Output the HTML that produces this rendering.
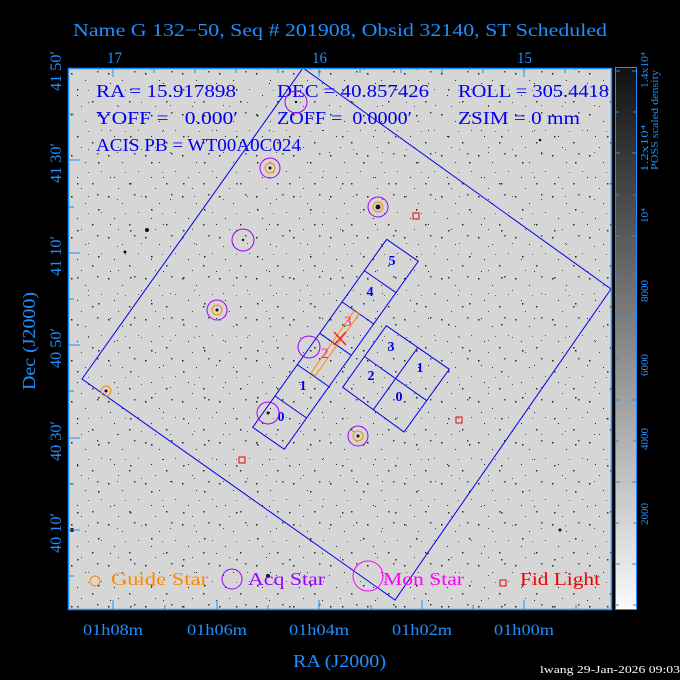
<!DOCTYPE html>
<html><head><meta charset="utf-8"><style>
html,body{margin:0;padding:0;background:#000;}
svg{display:block}
text{font-family:"Liberation Serif",serif;}
</style></head><body>
<svg width="680" height="680" viewBox="0 0 680 680" xmlns="http://www.w3.org/2000/svg">
<defs>
<pattern id="p1" x="68" y="68" width="37" height="41" patternUnits="userSpaceOnUse">
<rect x="3" y="5" width="1.5" height="1.5" fill="#222"/><rect x="17" y="12" width="1" height="1" fill="#333"/>
<rect x="29" y="3" width="1.5" height="1.5" fill="#444"/><rect x="9" y="27" width="1" height="1" fill="#222"/>
<rect x="24" y="33" width="1.5" height="1.5" fill="#333"/><rect x="33" y="21" width="1" height="1" fill="#555"/>
<rect x="13" y="38" width="1" height="1" fill="#444"/><rect x="20" y="22" width="1" height="1" fill="#666"/>
</pattern>
<pattern id="p2" x="70" y="75" width="53" height="47" patternUnits="userSpaceOnUse">
<rect x="7" y="14" width="1.5" height="1.5" fill="#333"/><rect x="40" y="8" width="1" height="1" fill="#222"/>
<rect x="28" y="40" width="1.5" height="1.5" fill="#222"/><rect x="47" y="30" width="1" height="1" fill="#444"/>
<rect x="18" y="27" width="1" height="1" fill="#555"/>
</pattern>
<linearGradient id="cb" x1="0" y1="0" x2="0" y2="1">
<stop offset="0" stop-color="#111"/><stop offset="1" stop-color="#fafafa"/>
</linearGradient>
</defs>
<text x="73" y="36" fill="#1e90ff" font-size="18" textLength="534" lengthAdjust="spacingAndGlyphs">Name G 132−50, Seq # 201908, Obsid 32140, ST Scheduled</text>
<rect x="68" y="68" width="544" height="542" fill="#d6d6d6"/>
<rect x="68" y="68" width="544" height="542" fill="url(#p1)"/>
<rect x="68" y="68" width="544" height="542" fill="url(#p2)"/>
<g fill="#111">
<circle cx="147" cy="230" r="2"/><circle cx="378" cy="207" r="2.5"/><circle cx="268" cy="413" r="1.5"/>
<circle cx="358" cy="436" r="1.5"/><circle cx="270" cy="168" r="1.5"/><circle cx="217" cy="310" r="1.5"/>
<circle cx="268" cy="576" r="2"/><circle cx="72" cy="530" r="2"/><circle cx="560" cy="530" r="1.5"/>
<circle cx="296" cy="102" r="1.2"/><circle cx="243" cy="240" r="1.2"/><circle cx="106" cy="391" r="1.5"/>
<circle cx="125" cy="252" r="1.5"/><circle cx="540" cy="140" r="1.3"/>
</g>
<g fill="#0000ee" font-size="18">
<text x="96" y="97" textLength="140" lengthAdjust="spacingAndGlyphs">RA = 15.917898</text>
<text x="277" y="97" textLength="152" lengthAdjust="spacingAndGlyphs">DEC = 40.857426</text>
<text x="458" y="97" textLength="151" lengthAdjust="spacingAndGlyphs">ROLL = 305.4418</text>
<text x="96" y="124" textLength="142" lengthAdjust="spacingAndGlyphs">YOFF =&#160;&#160;&#160;0.000′</text>
<text x="277" y="124" textLength="135" lengthAdjust="spacingAndGlyphs">ZOFF =&#160;&#160;0.0000′</text>
<text x="458" y="124" textLength="122" lengthAdjust="spacingAndGlyphs">ZSIM = 0 mm</text>
<text x="96" y="151" textLength="205" lengthAdjust="spacingAndGlyphs">ACIS PB = WT00A0C024</text>
</g>
<polygon points="82,379 303,68 611,289 395,600" fill="none" stroke="#0000ee" stroke-width="1"/>
<g fill="none" stroke="#0000ee" stroke-width="1">
<polygon points="386.7,239.3 418.3,261.3 284.3,449.3 252.7,427.3"/>
<line x1="364.3" y1="270.6" x2="395.9" y2="292.6"/>
<line x1="342" y1="301.9" x2="373.6" y2="323.9"/>
<line x1="319.7" y1="333.3" x2="351.3" y2="355.3"/>
<line x1="297.3" y1="364.6" x2="328.9" y2="386.6"/>
<line x1="275" y1="396" x2="306.6" y2="418"/>
<polygon points="386.3,325.7 449.3,369.3 404,432 342.7,387.3"/>
<line x1="364.5" y1="356.5" x2="426.7" y2="400.7"/>
<line x1="417.8" y1="347.5" x2="373.4" y2="409.6"/>
</g>
<g fill="#0000ee" font-size="14" font-weight="bold">
<text x="392" y="265" text-anchor="middle">5</text><text x="370" y="296" text-anchor="middle">4</text>
<text x="303" y="390" text-anchor="middle">1</text><text x="281" y="421" text-anchor="middle">0</text>
<text x="391" y="351" text-anchor="middle">3</text><text x="420" y="372" text-anchor="middle">1</text>
<text x="371" y="380" text-anchor="middle">2</text><text x="399" y="401" text-anchor="middle">0</text>
</g>
<polygon points="311,373 354,311 359,314 315,376" fill="none" stroke="#ff8800" stroke-width="1"/>
<g stroke="#ff2020" stroke-width="1.5"><line x1="334" y1="332" x2="346" y2="345"/><line x1="346" y1="332" x2="334" y2="345"/></g>
<g fill="#ff2080" font-size="15"><text x="321" y="358">2</text><text x="344" y="326">3</text></g>
<g fill="none" stroke="#9a00ff" stroke-width="1">
<circle cx="296" cy="102" r="11"/><circle cx="270" cy="168" r="10"/><circle cx="378" cy="207" r="10"/>
<circle cx="243" cy="240" r="11"/><circle cx="217" cy="310" r="10"/><circle cx="309" cy="347" r="11"/>
<circle cx="268" cy="413" r="11"/><circle cx="358" cy="436" r="10"/>
</g>
<g fill="none" stroke="#ff8800" stroke-width="1">
<circle cx="270" cy="168" r="5"/><circle cx="378" cy="207" r="5"/><circle cx="217" cy="310" r="5"/>
<circle cx="358" cy="436" r="5"/><circle cx="106" cy="391" r="5"/>
</g>
<g fill="none" stroke="#ee0000" stroke-width="1">
<rect x="413" y="213" width="6" height="6"/><rect x="456" y="417" width="6" height="6"/><rect x="239" y="457" width="6" height="6"/>
</g>
<circle cx="95" cy="581" r="5" fill="none" stroke="#ff8800"/>
<text x="111" y="585" fill="#ff8800" font-size="18" textLength="97" lengthAdjust="spacingAndGlyphs">Guide Star</text>
<circle cx="232" cy="579" r="10" fill="none" stroke="#9a00ff"/>
<text x="248" y="585" fill="#9a00ff" font-size="18" textLength="77" lengthAdjust="spacingAndGlyphs">Acq Star</text>
<circle cx="368" cy="576" r="15" fill="none" stroke="#ff00ff"/>
<text x="383" y="585" fill="#ff00ff" font-size="18" textLength="81" lengthAdjust="spacingAndGlyphs">Mon Star</text>
<rect x="500" y="580" width="6" height="6" fill="none" stroke="#ee0000"/>
<text x="520" y="585" fill="#ee0000" font-size="18" textLength="80" lengthAdjust="spacingAndGlyphs">Fid Light</text>
<rect x="68.5" y="68.5" width="543" height="541" fill="none" stroke="#1e90ff" stroke-width="1.5"/>
<g stroke="#1e90ff" stroke-width="1">
<line x1="113" y1="69" x2="113" y2="77"/><line x1="319" y1="69" x2="319" y2="77"/><line x1="524" y1="69" x2="524" y2="77"/>
<line x1="154" y1="69" x2="154" y2="73"/><line x1="195" y1="69" x2="195" y2="73"/><line x1="236" y1="69" x2="236" y2="73"/><line x1="278" y1="69" x2="278" y2="73"/>
<line x1="360" y1="69" x2="360" y2="73"/><line x1="401" y1="69" x2="401" y2="73"/><line x1="442" y1="69" x2="442" y2="73"/><line x1="483" y1="69" x2="483" y2="73"/><line x1="565" y1="69" x2="565" y2="73"/>
<line x1="113" y1="610" x2="113" y2="600"/><line x1="217" y1="610" x2="217" y2="600"/><line x1="319" y1="610" x2="319" y2="600"/><line x1="422" y1="610" x2="422" y2="600"/><line x1="524" y1="610" x2="524" y2="600"/>
<line x1="165" y1="610" x2="165" y2="605"/><line x1="268" y1="610" x2="268" y2="605"/><line x1="371" y1="610" x2="371" y2="605"/><line x1="473" y1="610" x2="473" y2="605"/><line x1="576" y1="610" x2="576" y2="605"/>
<line x1="69" y1="160" x2="80" y2="160"/><line x1="69" y1="253" x2="80" y2="253"/><line x1="69" y1="345" x2="80" y2="345"/><line x1="69" y1="438" x2="80" y2="438"/><line x1="69" y1="530" x2="80" y2="530"/>
<line x1="69" y1="114" x2="74" y2="114"/><line x1="69" y1="207" x2="74" y2="207"/><line x1="69" y1="299" x2="74" y2="299"/><line x1="69" y1="391" x2="74" y2="391"/><line x1="69" y1="484" x2="74" y2="484"/><line x1="69" y1="576" x2="74" y2="576"/>
</g>
<g fill="#1e90ff" font-size="16">
<text x="107" y="63" textLength="15" lengthAdjust="spacingAndGlyphs">17</text>
<text x="312" y="63" textLength="15" lengthAdjust="spacingAndGlyphs">16</text>
<text x="517" y="63" textLength="15" lengthAdjust="spacingAndGlyphs">15</text>
<text x="83" y="635" textLength="60" lengthAdjust="spacingAndGlyphs">01h08m</text>
<text x="187" y="635" textLength="60" lengthAdjust="spacingAndGlyphs">01h06m</text>
<text x="289" y="635" textLength="60" lengthAdjust="spacingAndGlyphs">01h04m</text>
<text x="392" y="635" textLength="60" lengthAdjust="spacingAndGlyphs">01h02m</text>
<text x="494" y="635" textLength="60" lengthAdjust="spacingAndGlyphs">01h00m</text>
<text x="293" y="667" font-size="18" textLength="93" lengthAdjust="spacingAndGlyphs">RA (J2000)</text>
<text transform="translate(61,91) rotate(-90)" textLength="40" lengthAdjust="spacingAndGlyphs">41 50′</text>
<text transform="translate(61,183) rotate(-90)" textLength="40" lengthAdjust="spacingAndGlyphs">41 30′</text>
<text transform="translate(61,276) rotate(-90)" textLength="40" lengthAdjust="spacingAndGlyphs">41 10′</text>
<text transform="translate(61,368) rotate(-90)" textLength="40" lengthAdjust="spacingAndGlyphs">40 50′</text>
<text transform="translate(61,461) rotate(-90)" textLength="40" lengthAdjust="spacingAndGlyphs">40 30′</text>
<text transform="translate(61,553) rotate(-90)" textLength="40" lengthAdjust="spacingAndGlyphs">40 10′</text>
<text transform="translate(35,390) rotate(-90)" font-size="18" textLength="98" lengthAdjust="spacingAndGlyphs">Dec (J2000)</text>
</g>
<rect x="615.5" y="67.5" width="21" height="542" fill="url(#cb)" stroke="#1e90ff" stroke-width="1"/>
<g stroke="#1e90ff" stroke-width="1">
<line x1="616" y1="71" x2="620" y2="71"/><line x1="632" y1="71" x2="636" y2="71"/>
<line x1="616" y1="112" x2="619" y2="112"/><line x1="633" y1="112" x2="636" y2="112"/>
<line x1="616" y1="153" x2="620" y2="153"/><line x1="632" y1="153" x2="636" y2="153"/>
<line x1="616" y1="195" x2="619" y2="195"/><line x1="633" y1="195" x2="636" y2="195"/>
<line x1="616" y1="236" x2="620" y2="236"/><line x1="632" y1="236" x2="636" y2="236"/>
<line x1="616" y1="277" x2="619" y2="277"/><line x1="633" y1="277" x2="636" y2="277"/>
<line x1="616" y1="318" x2="620" y2="318"/><line x1="632" y1="318" x2="636" y2="318"/>
<line x1="616" y1="359" x2="619" y2="359"/><line x1="633" y1="359" x2="636" y2="359"/>
<line x1="616" y1="400" x2="620" y2="400"/><line x1="632" y1="400" x2="636" y2="400"/>
<line x1="616" y1="441" x2="619" y2="441"/><line x1="633" y1="441" x2="636" y2="441"/>
<line x1="616" y1="482" x2="620" y2="482"/><line x1="632" y1="482" x2="636" y2="482"/>
<line x1="616" y1="523" x2="619" y2="523"/><line x1="633" y1="523" x2="636" y2="523"/>
<line x1="616" y1="564" x2="620" y2="564"/><line x1="632" y1="564" x2="636" y2="564"/>
<line x1="616" y1="605" x2="619" y2="605"/><line x1="633" y1="605" x2="636" y2="605"/>
</g>
<g fill="#1e90ff" font-size="11" font-family="Liberation Mono,monospace">
<text transform="translate(648,88) rotate(-90)" textLength="36" lengthAdjust="spacingAndGlyphs">1.4x10⁴</text>
<text transform="translate(648,172) rotate(-90)" textLength="47" lengthAdjust="spacingAndGlyphs">1.2x10⁴</text>
<text transform="translate(648,223) rotate(-90)" textLength="15" lengthAdjust="spacingAndGlyphs">10⁴</text>
<text transform="translate(648,302) rotate(-90)" textLength="22" lengthAdjust="spacingAndGlyphs">8000</text>
<text transform="translate(648,376) rotate(-90)" textLength="22" lengthAdjust="spacingAndGlyphs">6000</text>
<text transform="translate(648,450) rotate(-90)" textLength="22" lengthAdjust="spacingAndGlyphs">4000</text>
<text transform="translate(648,525) rotate(-90)" textLength="22" lengthAdjust="spacingAndGlyphs">2000</text>
<text transform="translate(658,170) rotate(-90)" font-size="10" textLength="100" lengthAdjust="spacingAndGlyphs">POSS scaled density</text>
</g>
<text x="540" y="673" fill="#fff" font-size="11" font-family="Liberation Sans,sans-serif" textLength="140" lengthAdjust="spacingAndGlyphs">lwang 29-Jan-2026 09:03</text>
</svg>
</body></html>
